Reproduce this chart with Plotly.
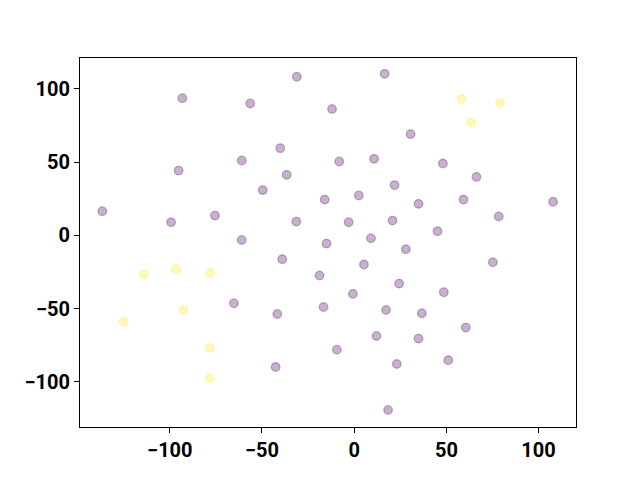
import plotly.graph_objects as go

# Data
purple_x = [-31.1, -93.2, -56.4, -12.0, -40.1, -61.0, -95.2, -36.6, -49.6, -16.0,
            -136.6, -99.3, -75.5, -31.4, -61.0, -15.0, 16.5, 30.6, -8.1, 10.8,
            48.1, 66.3, 21.9, 2.5, 34.9, 59.3, 107.9, 78.4, -3.0, 20.8,
            45.2, 9.1, 28.0, 5.3, 75.2, 24.4, -0.7, 48.6, -16.6, 17.3,
            36.7, 60.5, 12.1, 34.9, -9.4, 23.1, 51.0, 18.4, -39.0, -18.8,
            -65.2, -41.7, -42.6]
purple_y = [108.2, 93.6, 90.0, 86.2, 59.5, 51.1, 44.2, 41.3, 30.9, 24.4,
            16.5, 9.0, 13.5, 9.4, -3.1, -5.6, 110.2, 69.1, 50.4, 52.2,
            49.0, 39.9, 34.3, 27.2, 21.5, 24.4, 22.9, 12.9, 9.0, 10.1,
            2.8, -1.9, -9.4, -19.9, -18.3, -32.9, -39.9, -38.8, -48.8, -50.9,
            -53.1, -62.9, -68.6, -70.4, -78.0, -87.7, -85.2, -119.1, -16.2, -27.4,
            -46.3, -53.6, -89.8]

yellow_x = [58.2, 79.1, 63.4, -114.0, -96.6, -78.2, -92.7, -125.2, -78.4, -78.4]
yellow_y = [93.0, 90.4, 76.8, -26.5, -22.9, -25.6, -50.9, -58.8, -76.8, -97.3]

x_range = [-148.7, 120.3]
y_range = [-130.7, 121.0]
tick_vals = [-100, -50, 0, 50, 100]

ALPHA = 0.3
purple_fill = f"rgba(68,1,84,{ALPHA})"
yellow_fill = f"rgba(253,231,37,{ALPHA})"

fig = go.Figure()
fig.add_trace(go.Scatter(
    x=purple_x, y=purple_y, mode="markers",
    marker=dict(size=8.6, color=purple_fill, line=dict(color=purple_fill, width=1.3)),
    showlegend=False, hoverinfo="skip"))
fig.add_trace(go.Scatter(
    x=yellow_x, y=yellow_y, mode="markers",
    marker=dict(size=8.6, color=yellow_fill, line=dict(color=yellow_fill, width=1.3)),
    showlegend=False, hoverinfo="skip"))

axis_common = dict(
    showgrid=False, zeroline=False, showline=True, linecolor="black", linewidth=1,
    mirror=True, ticks="outside", ticklen=5, tickwidth=1, tickcolor="black",
    tickvals=tick_vals, automargin=False,
    tickfont=dict(family="Roboto", size=20, color="black", weight="bold"),
)

# The page body adds an 8px offset, margins compensate for it
fig.update_layout(
    width=640, height=480,
    margin=dict(l=72, r=72, t=50, b=61),
    paper_bgcolor="white", plot_bgcolor="white",
    xaxis=dict(range=x_range, **axis_common),
    yaxis=dict(range=y_range, **axis_common),
)

fig.write_html("out.html")
